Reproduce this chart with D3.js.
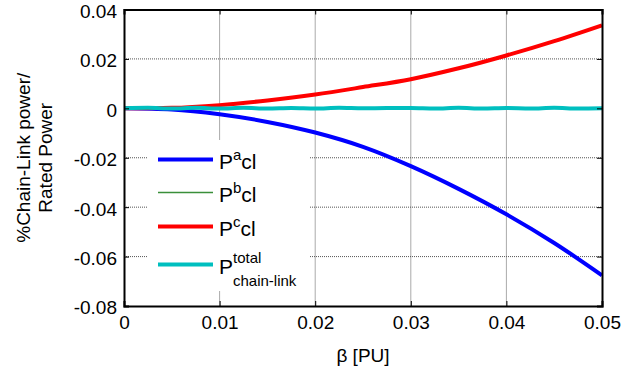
<!DOCTYPE html>
<html>
<head>
<meta charset="utf-8">
<script src="https://cdn.jsdelivr.net/npm/d3@7"></script>
<style>
  body { margin: 0; background: #fff; }
  svg { font-family: "Liberation Sans", Arial, sans-serif; }
  .grid line { stroke: #555; stroke-width: 1; stroke-dasharray: 1,1; }
</style>
</head>
<body>
<div id="chart"></div>
<script>
// beta values (PU)
const beta = [0, 0.005, 0.01, 0.015, 0.02, 0.025, 0.03, 0.035, 0.04, 0.045, 0.05];
// phase a / c chain-link power
const pA = [0, -0.0005, -0.0024, -0.0055, -0.0098, -0.0156, -0.0234, -0.0326, -0.0429, -0.0545, -0.0676];
const pC = [0, 0.0002, 0.0013, 0.0032, 0.0056, 0.0086, 0.0118, 0.0162, 0.0214, 0.0272, 0.0336];
const pB = [0, 0, 0, 0, 0, 0, 0, 0, 0, 0, 0];
// total chain-link power (small ripple around zero)
const betaT = [0, 0.0025, 0.005, 0.0075, 0.01, 0.0125, 0.015, 0.0175, 0.02, 0.0225, 0.025,
  0.0275, 0.03, 0.0325, 0.035, 0.0375, 0.04, 0.0425, 0.045, 0.0475, 0.05];
const pTot = [0, 0.0002, -0.0001, 0.0002, -0.0001, 0.0002, -0.0001, 0.0001, -0.0001, 0.0002, 0,
  0.0001, 0.0001, -0.0001, 0.0002, -0.0001, 0.0001, -0.0001, 0.0002, -0.0001, 0];
const xTicks = [0, 0.01, 0.02, 0.03, 0.04, 0.05];
const yTicks = [-0.08, -0.06, -0.04, -0.02, 0, 0.02, 0.04];

const W = 642, H = 370;
const m = { left: 124, right: 40, top: 9.5, bottom: 64 };

const svg = d3.select("#chart").append("svg")
    .attr("width", W).attr("height", H);

const x = d3.scaleLinear().domain([0, 0.05]).range([m.left, W - m.right]);
const y = d3.scaleLinear().domain([-0.08, 0.04]).range([H - m.bottom, m.top]);

// grid
const grid = svg.append("g").attr("class", "grid");
grid.selectAll("line.v").data(xTicks.slice(1, -1)).enter().append("line")
    .attr("x1", d => x(d)).attr("x2", d => x(d))
    .attr("y1", y.range()[1]).attr("y2", y.range()[0]);
grid.selectAll("line.h").data(yTicks.slice(1, -1)).enter().append("line")
    .attr("y1", d => y(d)).attr("y2", d => y(d))
    .attr("x1", x.range()[0]).attr("x2", x.range()[1]);

// series
const line = d3.line().x(d => x(d[0])).y(d => y(d[1]));
const series = [
  { xs: beta, ys: pB, color: "#3a8f3a", w: 1.5 },
  { xs: beta, ys: pA, color: "#0000ff", w: 4 },
  { xs: beta, ys: pC, color: "#ff0000", w: 4 },
  { xs: betaT, ys: pTot, color: "#00bfbf", w: 4 }
];
series.forEach(s => {
  svg.append("path")
    .datum(s.xs.map((b, i) => [b, s.ys[i]]))
    .attr("fill", "none")
    .attr("stroke", s.color)
    .attr("stroke-width", s.w)
    .attr("d", line.curve(d3.curveMonotoneX));
});

// legend box
const lg = svg.append("g");
lg.append("rect").attr("x", 148).attr("y", 140).attr("width", 162).attr("height", 151)
    .attr("fill", "#fff");
const legendItems = [
  { color: "#0000ff", w: 4, sup: "a", sub: "cl", y: 159.5 },
  { color: "#3a8f3a", w: 1.5, sup: "b", sub: "cl", y: 192.5 },
  { color: "#ff0000", w: 4, sup: "c", sub: "cl", y: 226.5 },
  { color: "#00bfbf", w: 4, sup: "total", sub: "chain-link", y: 264.5 }
];
legendItems.forEach((d, i) => {
  lg.append("line").attr("x1", 158).attr("x2", 213).attr("y1", d.y).attr("y2", d.y)
    .attr("stroke", d.color).attr("stroke-width", d.w);
  const t = lg.append("text").attr("x", 219).attr("y", d.y + 9).attr("font-size", 21);
  t.append("tspan").text("P");
  if (i < 3) {
    t.append("tspan").attr("dy", -9).attr("font-size", 15).text(d.sup);
    t.append("tspan").attr("dy", 9).text(d.sub);
  } else {
    t.append("tspan").attr("dy", -11).attr("font-size", 15).text(d.sup);
    t.append("tspan").attr("x", 233).attr("dy", 23).attr("font-size", 15).text(d.sub);
  }
});

// axes
const xAxis = d3.axisBottom(x).tickValues(xTicks).tickSize(-5).tickPadding(10)
    .tickFormat(d => d === 0 ? "0" : d3.format(".2f")(d));
const yAxis = d3.axisLeft(y).tickValues(yTicks).tickSize(-5).tickPadding(7)
    .tickFormat(d => d === 0 ? "0" : d3.format(".2f")(d).replace("−", "-"));

const gx = svg.append("g").attr("transform", `translate(0,${y.range()[0]})`).call(xAxis);
const gy = svg.append("g").attr("transform", `translate(${x.range()[0]},0)`).call(yAxis);
svg.append("g").attr("transform", `translate(0,${y.range()[1]})`)
    .call(d3.axisTop(x).tickValues(xTicks).tickSize(-5).tickFormat(""));
svg.append("g").attr("transform", `translate(${x.range()[1]},0)`)
    .call(d3.axisRight(y).tickValues(yTicks).tickSize(-5).tickFormat(""));

svg.selectAll(".domain").attr("stroke", "#000").attr("stroke-width", 2);
svg.selectAll(".tick line").attr("stroke", "#000");
svg.selectAll(".tick text").attr("font-size", 19).attr("fill", "#000")
    .attr("font-family", "Liberation Sans, Arial, sans-serif");
gy.selectAll(".tick text").attr("dy", "0.42em");

// axis labels
svg.append("text").attr("x", x(0.025)).attr("y", 362)
    .attr("text-anchor", "middle").attr("font-size", 19).text("β [PU]");
const yl = svg.append("text").attr("transform", `translate(30,${(y.range()[0] + y.range()[1]) / 2}) rotate(-90)`)
    .attr("text-anchor", "middle").attr("font-size", 19);
yl.append("tspan").attr("x", 0).attr("dy", 0).text("%Chain-Link power/");
yl.append("tspan").attr("x", 0).attr("dy", 22).text("Rated Power");
</script>
</body>
</html>
